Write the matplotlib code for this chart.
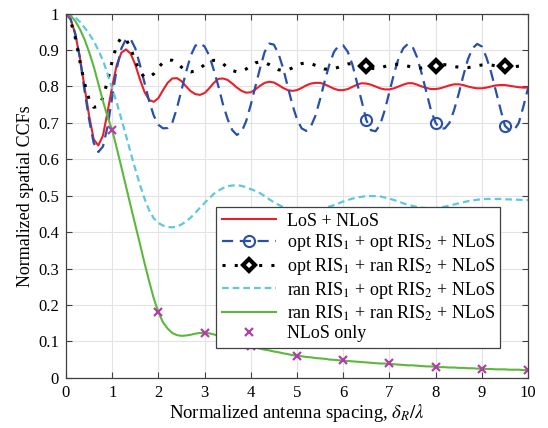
import numpy as np
import matplotlib
matplotlib.use("Agg")
import matplotlib.pyplot as plt

# normalized antenna spacing grid (delta_R / lambda)
spacing = np.round(np.arange(0, 10.01, 0.1), 1)

los_nlos = [1.0, 0.985, 0.945, 0.88, 0.80, 0.72, 0.655, 0.638, 0.665, 0.73,
            0.80, 0.86, 0.893, 0.902, 0.89, 0.86, 0.82, 0.785, 0.763, 0.758,
            0.768, 0.79, 0.81, 0.822, 0.823, 0.815, 0.80, 0.787, 0.779, 0.777,
            0.782, 0.795, 0.81, 0.821, 0.822, 0.818, 0.808, 0.797, 0.788, 0.783,
            0.784, 0.792, 0.802, 0.81, 0.813, 0.811, 0.804, 0.796, 0.79, 0.788,
            0.79, 0.796, 0.803, 0.808, 0.81, 0.81, 0.806, 0.80, 0.794, 0.79,
            0.79, 0.793, 0.799, 0.805, 0.809, 0.808, 0.805, 0.80, 0.795, 0.792,
            0.792, 0.795, 0.80, 0.805, 0.809, 0.809, 0.805, 0.80, 0.796, 0.793,
            0.793, 0.795, 0.799, 0.803, 0.806, 0.806, 0.804, 0.80, 0.797, 0.795,
            0.795, 0.797, 0.80, 0.803, 0.804, 0.804, 0.802, 0.80, 0.798, 0.797,
            0.797]

opt_opt = [1.0, 0.985, 0.945, 0.88, 0.79, 0.71, 0.645, 0.62, 0.635, 0.69,
           0.77, 0.85, 0.905, 0.93, 0.93, 0.905, 0.86, 0.81, 0.76, 0.72,
           0.695, 0.685, 0.686, 0.70, 0.74, 0.79, 0.84, 0.885, 0.912, 0.919,
           0.91, 0.885, 0.845, 0.80, 0.75, 0.71, 0.68, 0.667, 0.675, 0.705,
           0.75, 0.80, 0.85, 0.895, 0.918, 0.915, 0.89, 0.85, 0.80, 0.75,
           0.71, 0.685, 0.678, 0.69, 0.72, 0.765, 0.815, 0.86, 0.895, 0.912,
           0.913, 0.895, 0.86, 0.81, 0.76, 0.708, 0.68, 0.677, 0.695, 0.735,
           0.785, 0.835, 0.878, 0.905, 0.917, 0.91, 0.88, 0.835, 0.785, 0.735,
           0.70, 0.684, 0.685, 0.70, 0.735, 0.78, 0.83, 0.875, 0.905, 0.917,
           0.91, 0.88, 0.84, 0.79, 0.74, 0.692, 0.68, 0.68, 0.70, 0.745,
           0.795]

opt_ran = [1.0, 0.98, 0.935, 0.87, 0.81, 0.765, 0.743, 0.745, 0.77, 0.815,
           0.87, 0.915, 0.935, 0.93, 0.905, 0.87, 0.84, 0.826, 0.825, 0.835,
           0.852, 0.866, 0.873, 0.872, 0.865, 0.853, 0.843, 0.84, 0.843, 0.85,
           0.86, 0.868, 0.872, 0.87, 0.862, 0.852, 0.844, 0.84, 0.842, 0.848,
           0.857, 0.865, 0.868, 0.866, 0.86, 0.852, 0.846, 0.844, 0.846, 0.851,
           0.858, 0.863, 0.865, 0.863, 0.858, 0.852, 0.848, 0.847, 0.849, 0.853,
           0.858, 0.862, 0.863, 0.861, 0.857, 0.855, 0.85, 0.849, 0.851, 0.855,
           0.859, 0.861, 0.861, 0.859, 0.856, 0.853, 0.851, 0.851, 0.853, 0.856,
           0.857, 0.86, 0.86, 0.858, 0.855, 0.853, 0.852, 0.852, 0.854, 0.857,
           0.859, 0.86, 0.859, 0.857, 0.855, 0.855, 0.853, 0.854, 0.856, 0.857,
           0.858]

ran_opt = [1.0, 0.997, 0.99, 0.978, 0.962, 0.945, 0.925, 0.90, 0.872, 0.835,
           0.795, 0.755, 0.71, 0.665, 0.618, 0.573, 0.53, 0.492, 0.46, 0.438,
           0.425, 0.418, 0.414, 0.413, 0.415, 0.421, 0.429, 0.44, 0.453, 0.467,
           0.48, 0.493, 0.505, 0.514, 0.521, 0.526, 0.528, 0.529, 0.527, 0.523,
           0.518, 0.513, 0.507, 0.499, 0.49, 0.482, 0.475, 0.469, 0.464, 0.46,
           0.457, 0.456, 0.456, 0.457, 0.459, 0.462, 0.466, 0.47, 0.474, 0.479,
           0.484, 0.488, 0.492, 0.495, 0.497, 0.499, 0.499, 0.499, 0.498, 0.495,
           0.492, 0.488, 0.484, 0.479, 0.475, 0.472, 0.469, 0.467, 0.466, 0.466,
           0.466, 0.468, 0.47, 0.473, 0.476, 0.479, 0.482, 0.485, 0.487, 0.489,
           0.49, 0.491, 0.491, 0.491, 0.491, 0.49, 0.49, 0.489, 0.489, 0.488,
           0.488]

ran_ran = [1.0, 0.995, 0.98, 0.958, 0.93, 0.895, 0.855, 0.808, 0.76, 0.717,
           0.68, 0.63, 0.578, 0.525, 0.472, 0.42, 0.368, 0.315, 0.265, 0.218,
           0.18, 0.152, 0.135, 0.123, 0.117, 0.115, 0.116, 0.118, 0.121, 0.123,
           0.123, 0.122, 0.119, 0.115, 0.11, 0.105, 0.10, 0.096, 0.092, 0.089,
           0.086, 0.083, 0.080, 0.077, 0.075, 0.072, 0.070, 0.067, 0.065, 0.062,
           0.060, 0.059, 0.057, 0.056, 0.054, 0.053, 0.052, 0.050, 0.049, 0.048,
           0.047, 0.046, 0.045, 0.044, 0.043, 0.042, 0.041, 0.040, 0.039, 0.039,
           0.038, 0.037, 0.036, 0.035, 0.034, 0.034, 0.033, 0.032, 0.031, 0.031,
           0.030, 0.029, 0.029, 0.028, 0.028, 0.027, 0.027, 0.026, 0.026, 0.025,
           0.025, 0.024, 0.024, 0.023, 0.023, 0.023, 0.022, 0.022, 0.022, 0.021,
           0.021]

nlos_x = [0, 1, 2, 3, 4, 5, 6, 7, 8, 9, 10]
nlos_only = [1.0, 0.68, 0.18, 0.123, 0.087, 0.06, 0.048, 0.04, 0.03, 0.025, 0.022]

marker_idx = [65, 80, 95]   # where the markers sit (6.5, 8, 9.5)

plt.rcParams['font.family'] = ['Liberation Serif', 'DejaVu Serif']
plt.rcParams['mathtext.fontset'] = 'stix'

fig = plt.figure(figsize=(5.48, 4.28), dpi=100)
ax = fig.add_axes([0.1204, 0.1175, 0.8431, 0.8505])

ax.plot(spacing, los_nlos, color='#e8202a', lw=1.5, label='LoS + NLoS')
ax.plot(spacing, opt_opt, color='#2850a8', lw=1.6, ls=(0, (5, 3)),
        marker='o', markevery=marker_idx, ms=8, mfc='none', mew=1.5,
        label='opt RIS$_1$ + opt RIS$_2$ + NLoS')
ax.plot(spacing, opt_ran, color='black', lw=2.2, ls=(0, (1, 3)),
        marker='D', markevery=marker_idx, ms=6.5, mfc='white', mec='black', mew=3,
        label='opt RIS$_1$ + ran RIS$_2$ + NLoS')
ax.plot(spacing, ran_opt, color='#5ec8dc', lw=1.6, ls=(0, (3, 1.8)),
        label='ran RIS$_1$ + opt RIS$_2$ + NLoS')
ax.plot(spacing, ran_ran, color='#5cb83c', lw=1.5,
        label='ran RIS$_1$ + ran RIS$_2$ + NLoS')
ax.plot(nlos_x, nlos_only, ls='none', marker='x', ms=6, mew=1.6,
        color='#b040a8', label='NLoS only')

ax.set_xlim(0, 10)
ax.set_ylim(0, 1)
ax.set_xticks(range(0, 11))
ax.set_yticks(np.round(np.arange(0, 1.01, 0.1), 1))
ax.set_yticklabels(['0', '0.1', '0.2', '0.3', '0.4', '0.5', '0.6', '0.7',
                    '0.8', '0.9', '1'])
ax.grid(True, color='#e3e3e3', lw=0.8)
ax.set_axisbelow(True)
ax.tick_params(direction='in', top=True, right=True, length=4,
               labelsize=12, color='#404040', pad=5)
for s in ax.spines.values():
    s.set_color('#404040')
    s.set_linewidth(0.9)

ax.set_xlabel(r'Normalized antenna spacing, $\delta_R/\lambda$', fontsize=13.5,
              labelpad=1)
ax.set_ylabel('Normalized spatial CCFs', fontsize=13, labelpad=3)

leg = ax.legend(loc='lower left', bbox_to_anchor=(0.325, 0.082),
                borderaxespad=0, fontsize=13, handlelength=3,
                labelspacing=0.15, handletextpad=0.6, borderpad=0.3,
                fancybox=False, framealpha=1, edgecolor='#404040')
leg.get_frame().set_linewidth(0.9)

fig.savefig('out.png', dpi=100)
